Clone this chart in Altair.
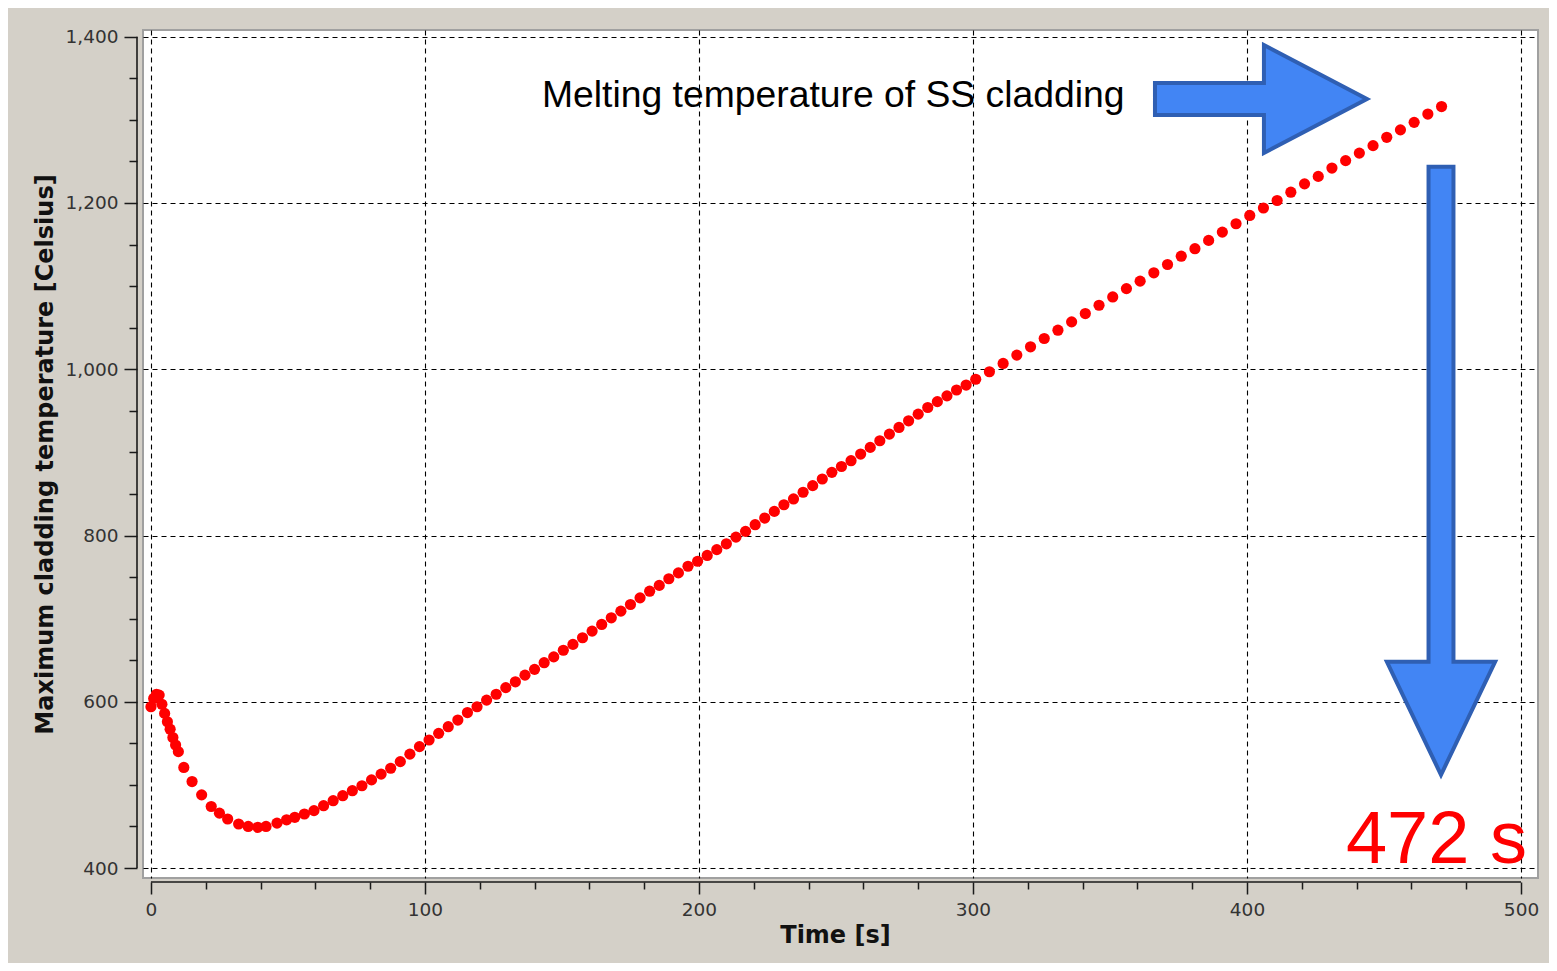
import altair as alt
import pandas as pd

# ---- data ----
time_s = [0, 1, 2, 3, 4, 5, 6, 7, 8, 9, 10, 12, 15, 18.5, 22, 25, 28, 32, 35.5, 39, 42, 46, 49.5,
          52.5, 56, 59.5, 63, 66.5, 70, 73.5, 77, 80.5, 84, 87.5, 91, 94.5, 98,
          101.5, 105, 108.5, 112, 115.5, 119, 122.5, 126, 129.5, 133, 136.5, 140, 143.5, 147,
          150.5, 154, 157.5, 161, 164.5, 168, 171.5, 175, 178.5, 182, 185.5, 189, 192.5, 196,
          199.5, 203, 206.5, 210, 213.5, 217, 220.5, 224, 227.5, 231, 234.5, 238, 241.5, 245,
          248.5, 252, 255.5, 259, 262.5, 266, 269.5, 273, 276.5, 280, 283.5, 287, 290.5, 294, 297.5,
          301, 306, 311, 316, 321, 326, 331, 336, 341, 346, 351, 356, 361, 366, 371, 376, 381,
          386, 391, 396, 401, 406, 411, 416, 421, 426, 431, 436, 441, 446, 451, 456, 461, 466, 471]
temp_c = [594, 604, 609, 608, 597, 586, 576, 567, 557, 548, 540, 521, 504, 488, 474, 466, 459, 453, 450, 449, 450, 454, 458,
          461, 465, 469, 475, 481, 487, 493, 499, 506, 513, 520, 528, 537, 546,
          554, 562, 570, 578, 587, 594, 602, 609, 617, 624, 632, 639, 647, 654,
          662, 669, 677, 685, 693, 701, 709, 717, 725, 733, 740, 748, 755, 763,
          769, 776, 783, 790, 798, 805, 813, 821, 829, 837, 844, 852, 860, 868,
          876, 883, 890, 898, 906, 914, 922, 930, 938, 946, 954, 961, 968, 975, 981,
          988, 997, 1007, 1017, 1027, 1037, 1047, 1057, 1067, 1077, 1087, 1097, 1106, 1116, 1126, 1136, 1145,
          1155, 1165, 1175, 1185, 1194, 1203, 1213, 1223, 1232, 1242, 1251, 1260, 1269, 1279, 1288, 1297, 1307, 1316]

x_major = [0, 100, 200, 300, 400, 500]
x_minor = [20, 40, 60, 80, 120, 140, 160, 180, 220, 240, 260, 280, 320, 340, 360, 380, 420, 440, 460, 480]
y_major = [400, 600, 800, 1000, 1200, 1400]
y_minor = [450, 500, 550, 650, 700, 750, 850, 900, 950, 1050, 1100, 1150, 1250, 1300, 1350]

x_axis_ends = [0, 500]
y_axis_ends = [400, 1400]

melt_text = ["Melting temperature of SS cladding"]
melt_pos_t = [142.7]
melt_pos_T = [1315.5]
time_text = ["472 s"]
time_pos_t = [436.1]
time_pos_T = [406.4]
right_arrow_t = [405.1]
right_arrow_T = [1325.1]
down_arrow_t = [470.8]
down_arrow_T = [877.8]

# ---- styles ----
AXIS_FONT = "DejaVu Sans"
X_DOMAIN = [-2.9, 506.2]
Y_DOMAIN = [388.0, 1408.1]
xs = alt.Scale(domain=X_DOMAIN, nice=False, zero=False)
ys = alt.Scale(domain=Y_DOMAIN, nice=False, zero=False)

RIGHT_ARROW = "M -1 -0.151 L 0.028 -0.151 L 0.028 -0.509 L 1 0 L 0.028 0.509 L 0.028 0.151 L -1 0.151 Z"
DOWN_ARROW = "M -0.041 -1 L 0.041 -1 L 0.041 0.628 L 0.178 0.628 L 0 1 L -0.178 0.628 L -0.041 0.628 Z"
ARROW_FILL = "#4285f4"
ARROW_STROKE = "#2f5fb3"

common_major = dict(domain=False, tickColor="#1a1a1a", tickWidth=1.5,
                    labelFont=AXIS_FONT, labelFontSize=18.5, labelColor="#333333",
                    labelFlush=False, grid=True, gridDash=[5, 4], gridColor="#000000",
                    gridWidth=1.1, titleFont=AXIS_FONT, titleFontSize=24,
                    titleFontWeight="bold", titleColor="#111111")

major_x = alt.Axis(values=x_major, orient="bottom", offset=4, tickSize=12, labelPadding=6,
                   title="Time [s]", titlePadding=5, titleX=692, titleAlign="center",
                   **common_major)
major_y = alt.Axis(values=y_major, orient="left", offset=6, tickSize=13, labelPadding=6,
                   format=",d", title="Maximum cladding temperature [Celsius]",
                   titlePadding=8, **common_major)
minor_x = alt.Axis(values=x_minor, orient="bottom", offset=4, tickSize=7, tickWidth=1.5,
                   tickColor="#1a1a1a", labels=False, grid=False, domain=False, title=None)
minor_y = alt.Axis(values=y_minor, orient="left", offset=6, tickSize=8, tickWidth=1.5,
                   tickColor="#1a1a1a", labels=False, grid=False, domain=False, title=None)

df = pd.DataFrame({"time": time_s, "temp": temp_c})

points = alt.Chart(df).mark_circle(size=125, color="#ff0000", opacity=1).encode(
    x=alt.X("time:Q", scale=xs, axis=major_x),
    y=alt.Y("temp:Q", scale=ys, axis=major_y),
)

x_line = alt.Chart(pd.DataFrame({"a": [x_axis_ends[0]], "b": [x_axis_ends[1]]})).mark_rule(
    color="#1a1a1a", strokeWidth=1.6).encode(
    x=alt.X("a:Q", scale=xs, axis=minor_x), x2="b:Q", y=alt.value(852))

y_line = alt.Chart(pd.DataFrame({"a": [y_axis_ends[0]], "b": [y_axis_ends[1]]})).mark_rule(
    color="#1a1a1a", strokeWidth=1.6).encode(
    y=alt.Y("a:Q", scale=ys, axis=minor_y), y2="b:Q", x=alt.value(-6))

melt = alt.Chart(pd.DataFrame({"t": melt_pos_t, "T": melt_pos_T, "label": melt_text})).mark_text(
    align="left", baseline="alphabetic", font="Liberation Sans", fontSize=37.3, color="#000000").encode(
    x=alt.X("t:Q", scale=xs, axis=None), y=alt.Y("T:Q", scale=ys, axis=None), text="label:N")

tlabel = alt.Chart(pd.DataFrame({"t": time_pos_t, "T": time_pos_T, "label": time_text})).mark_text(
    align="left", baseline="alphabetic", font="Liberation Sans", fontSize=74, color="#ff0000").encode(
    x=alt.X("t:Q", scale=xs, axis=None), y=alt.Y("T:Q", scale=ys, axis=None), text="label:N")

rarrow = alt.Chart(pd.DataFrame({"t": right_arrow_t, "T": right_arrow_T})).mark_point(
    shape=RIGHT_ARROW, size=212 * 212, filled=True, fill=ARROW_FILL, stroke=ARROW_STROKE,
    strokeWidth=4, opacity=1, fillOpacity=1).encode(
    x=alt.X("t:Q", scale=xs, axis=None), y=alt.Y("T:Q", scale=ys, axis=None))

darrow = alt.Chart(pd.DataFrame({"t": down_arrow_t, "T": down_arrow_T})).mark_point(
    shape=DOWN_ARROW, size=608 * 608, filled=True, fill=ARROW_FILL, stroke=ARROW_STROKE,
    strokeWidth=4, opacity=1, fillOpacity=1).encode(
    x=alt.X("t:Q", scale=xs, axis=None), y=alt.Y("T:Q", scale=ys, axis=None))

chart = alt.layer(points, x_line, y_line, melt, tlabel, rarrow, darrow).resolve_axis(
    x="independent", y="independent"
).properties(
    width=1395, height=848,
    autosize=alt.AutoSizeParams(type="none"),
    padding={"left": 135, "top": 22, "right": 11, "bottom": 85},
    background="#d4d0c8",
).configure_view(fill="white", stroke="#a0a0a0", strokeWidth=2)

chart.save("out.html", embed_options={"renderer": "svg", "actions": False})
